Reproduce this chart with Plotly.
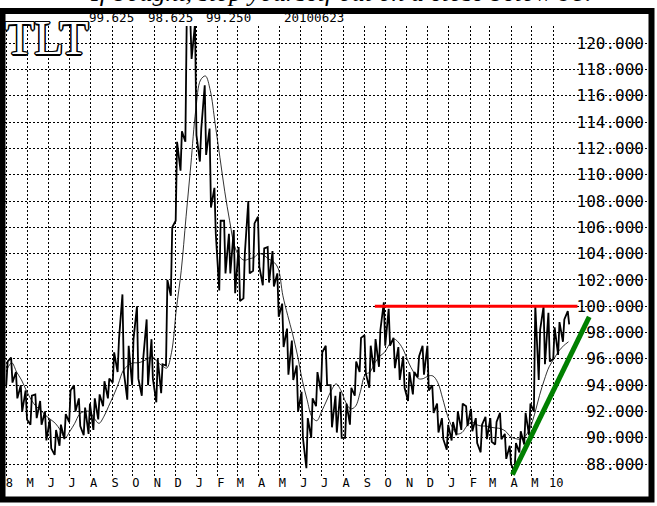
import pandas as pd
import plotly.graph_objects as go

# ---------------- data ----------------
week_start = "2008-03-31"  # Monday of the first weekly bar

weekly_high = [
    95.8, 96.1, 95.0, 94.0, 93.6, 93.2, 93.3, 92.8, 92.0, 91.4,
    90.6, 91.0, 91.8, 93.6, 94.0, 93.0, 92.3, 92.6, 93.0, 93.3,
    94.3, 94.5, 96.5, 97.5, 100.9, 97.0, 97.5, 100.0, 96.0, 99.0,
    97.5, 96.0, 95.6, 102.0, 106.0, 112.5, 113.3, 122.0, 122.0, 121.5,
    113.5, 116.8, 113.5, 109.0, 106.5, 106.5, 105.5, 105.8, 104.5, 104.0,
    108.0, 106.3, 106.8, 104.4, 104.5, 104.2, 102.5, 100.2, 98.3, 97.4,
    95.5, 93.5, 91.5, 93.0, 95.0, 96.5, 97.0, 94.0, 93.2, 93.5,
    92.6, 93.8, 95.8, 97.6, 97.8, 97.0, 97.5, 98.2, 100.3, 99.8,
    97.6, 96.9, 96.2, 95.0, 95.0, 96.2, 97.0, 97.0, 94.0, 92.6,
    91.5, 91.0, 91.2, 92.0, 92.6, 92.4, 92.2, 91.5, 91.0, 91.6,
    91.5, 91.2, 91.9, 90.3, 89.4, 89.6, 90.5, 91.9, 92.6, 100.1,
    98.2, 100.0, 99.5, 98.4, 98.8, 99.0, 99.625,
]
weekly_low = [
    94.0, 94.2, 93.0, 92.0, 91.4, 91.0, 91.5, 91.0, 89.8, 89.2,
    88.7, 89.4, 89.9, 91.2, 92.0, 90.9, 90.2, 90.3, 90.6, 91.4,
    92.4, 93.0, 94.2, 95.0, 95.0, 92.9, 94.0, 94.5, 93.2, 94.0,
    94.5, 92.7, 93.4, 95.5, 100.8, 106.5, 110.3, 112.5, 118.8, 113.0,
    111.0, 111.5, 107.5, 105.5, 101.2, 102.5, 102.5, 101.0, 100.4, 100.6,
    102.5, 102.7, 103.0, 101.6, 101.8, 101.5, 99.2, 96.9, 94.8, 94.4,
    92.0, 90.0, 87.7, 90.0, 92.4, 93.5, 94.0, 90.8, 90.4, 90.0,
    90.0, 91.0, 93.2, 95.0, 94.9, 93.8, 95.0, 95.4, 97.0, 97.0,
    95.3, 94.4, 93.8, 92.8, 93.3, 94.6, 94.8, 93.6, 91.9, 90.4,
    89.9, 89.1, 89.8, 90.2, 90.6, 90.9, 90.5, 89.6, 88.9, 89.9,
    89.7, 89.5, 89.9, 88.4, 88.0, 87.4, 88.9, 89.5, 90.2, 92.0,
    94.4, 95.6, 95.8, 96.0, 96.3, 97.3, 98.625,
]
moving_avg = [
    95.2, 95.7, 95.0, 94.4, 93.6, 92.9, 92.4, 92.1, 91.7, 91.4,
    91.1, 90.6, 90.0, 90.5, 91.1, 91.8, 92.0, 92.0, 91.5, 91.1,
    91.6, 92.4, 93.2, 94.1, 95.1, 95.5, 95.7, 95.7, 95.8, 96.0,
    96.2, 95.8, 95.5, 95.3, 96.5, 99.8, 102.7, 106.8, 110.8, 114.9,
    117.2, 117.5, 116.4, 113.9, 111.3, 108.7, 106.5, 104.6, 103.8, 103.5,
    103.6, 103.7, 104.0, 103.9, 103.6, 103.4, 102.9, 100.8, 99.3, 97.9,
    96.3, 94.4, 92.9, 91.6, 91.3, 92.0, 92.8, 93.6, 94.1, 93.6,
    92.7, 92.2, 92.4, 93.5, 94.8, 95.0, 95.7, 96.2, 96.5, 97.1,
    97.5, 97.2, 96.6, 95.7, 95.0, 94.5, 94.5, 94.7, 94.7, 94.2,
    93.0, 91.7, 90.8, 90.3, 90.4, 90.9, 91.2, 91.0, 90.9, 90.9,
    90.8, 90.75, 90.7, 90.5, 90.1, 89.95, 89.9, 90.1, 90.7, 91.8,
    93.2, 94.4, 95.4, 96.0, 96.6, 97.0, 97.3,
]

month_labels = ["8", "M", "J", "J", "A", "S", "O", "N", "D", "J", "F", "M", "A",
                "M", "J", "J", "A", "S", "O", "N", "D", "J", "F", "M", "A", "M", "10"]
price_ticks = list(range(88, 121, 2))

resistance_level = 100.0
resistance_dates = ["2009-09-16", "2010-07-06"]
trend_dates = ["2010-04-03", "2010-07-23"]
trend_prices = [87.2, 99.2]

header_high, header_low, header_close, header_date = "99.625", "98.625", "99.250", "20100623"
symbol = "TLT"
comment = "If bought, stop yourself out on a close below 98."

# ---------------- build ----------------
W, H = 657, 506
ML, MR, MT, MB = 5, 9, 26, 30
PW, PH = W - ML - MR, H - MT - MB


def px(x):
    return (x - ML) / PW


def py(y):
    return 1 - (y - MT) / PH


weeks = pd.date_range(week_start, periods=len(weekly_high), freq="7D")
zz_x, zz_y = [], []
n = len(weekly_high)
for i, d in enumerate(weeks):
    mid = weekly_high[i] + weekly_low[i]
    nxt = (weekly_high[i + 1] + weekly_low[i + 1]) if i + 1 < n else mid
    first, second = (weekly_low[i], weekly_high[i]) if nxt > mid else (weekly_high[i], weekly_low[i])
    zz_x += [d + pd.Timedelta(days=1), d + pd.Timedelta(days=3)]
    zz_y += [first, second]

ma_x = [d + pd.Timedelta(days=2) for d in weeks]
month_ticks = pd.date_range("2008-04-01", periods=len(month_labels), freq="MS")

fig = go.Figure()
fig.add_trace(go.Scatter(x=zz_x, y=zz_y, mode="lines",
                         line=dict(color="black", width=1.8), showlegend=False))
fig.add_trace(go.Scatter(x=ma_x, y=moving_avg, mode="lines",
                         line=dict(color="black", width=0.8, shape="spline"), showlegend=False))
fig.add_trace(go.Scatter(x=resistance_dates, y=[resistance_level] * 2, mode="lines",
                         line=dict(color="#ff0000", width=3), showlegend=False))
fig.add_trace(go.Scatter(x=trend_dates, y=trend_prices, mode="lines",
                         line=dict(color="#008000", width=5), showlegend=False))

mono = "DejaVu Sans Mono"
grid = dict(showgrid=True, gridcolor="black", gridwidth=1, griddash="2px,2px",
            zeroline=False, showline=False, ticks="")

outline = ("-1px -1px 0 #000, 1px -1px 0 #000, -1px 1px 0 #000, 1px 1px 0 #000, "
           "0 -1.5px 0 #000, 0 1.5px 0 #000, -1.5px 0 0 #000, 1.5px 0 0 #000")

fig.update_layout(
    width=W, height=H, margin=dict(l=ML, r=MR, t=MT, b=MB),
    paper_bgcolor="white", plot_bgcolor="white",
    xaxis=dict(type="date", range=["2008-03-30T04:00", "2010-10-16"],
               tickmode="array", tickvals=list(month_ticks), ticktext=month_labels,
               tickfont=dict(family=mono, size=12, color="black"),
               ticklabelshift=3, ticklabelstandoff=-2, **grid),
    yaxis=dict(side="right", range=[87.1, 121.3], tickmode="array",
               tickvals=price_ticks, ticktext=[f"{v:.3f}" for v in price_ticks],
               ticklabelposition="inside", ticklabelstandoff=1,
               tickfont=dict(family=mono, size=16, color="black"), **grid),
    shapes=[
        # blank the grid behind the price labels
        dict(type="rect", xref="paper", yref="paper", x0=px(575), x1=1, y0=0, y1=1,
             fillcolor="white", line=dict(width=0), layer="between"),
        # frame
        dict(type="rect", xref="paper", yref="paper", x0=px(2.5), x1=px(651.5),
             y0=py(499.5), y1=py(11), fillcolor="rgba(0,0,0,0)",
             line=dict(color="black", width=6), layer="above"),
    ],
    annotations=[
        dict(text=comment, xref="paper", yref="paper", x=px(340), y=py(9),
             xanchor="center", yanchor="bottom", showarrow=False,
             font=dict(family="Liberation Serif", size=26, style="italic", color="black")),
        dict(text=symbol, xref="paper", yref="paper", x=px(3), y=py(38),
             xanchor="left", yanchor="middle", showarrow=False,
             font=dict(family="Liberation Serif", size=48, color="white", shadow=outline)),
        dict(text=header_high, xref="paper", yref="paper", x=px(87), y=py(17.5),
             xanchor="left", yanchor="middle", showarrow=False,
             font=dict(family=mono, size=12.5, color="black")),
        dict(text=header_low, xref="paper", yref="paper", x=px(146), y=py(17.5),
             xanchor="left", yanchor="middle", showarrow=False,
             font=dict(family=mono, size=12.5, color="black")),
        dict(text=header_close, xref="paper", yref="paper", x=px(204), y=py(17.5),
             xanchor="left", yanchor="middle", showarrow=False,
             font=dict(family=mono, size=12.5, color="black")),
        dict(text=header_date, xref="paper", yref="paper", x=px(282), y=py(17.5),
             xanchor="left", yanchor="middle", showarrow=False,
             font=dict(family=mono, size=12.5, color="black")),
    ],
)

fig.write_html(
    "out.html",
    config={"displayModeBar": False},
    post_script="document.body.style.margin='0';document.body.style.padding='0';"
                "document.body.style.overflow='hidden';",
)
